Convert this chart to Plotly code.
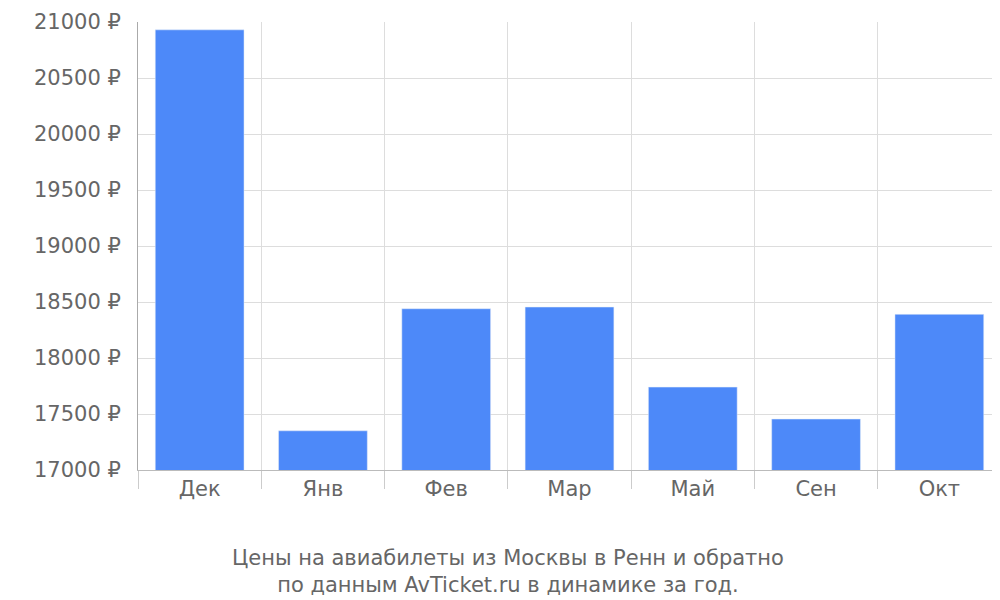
import plotly.graph_objects as go

months = ['Дек', 'Янв', 'Фев', 'Мар', 'Май', 'Сен', 'Окт']
prices = [20930, 17350, 18440, 18455, 17740, 17455, 18390]
y_ticks = [17000, 17500, 18000, 18500, 19000, 19500, 20000, 20500, 21000]

fig = go.Figure(go.Bar(x=months, y=prices, marker_color='#4d89f9', width=0.72))

fig.update_xaxes(tickson='boundaries', ticks='outside', ticklen=18, tickcolor='#ccc',
                 showgrid=True, gridcolor='#ddd', showline=True, linecolor='#bbb',
                 tickfont=dict(size=21, color='#666'), automargin=False)
fig.update_yaxes(range=[17000, 21000], tickvals=y_ticks,
                 ticktext=[f'{v} ₽' for v in y_ticks], ticks='outside', ticklen=12,
                 tickcolor='rgba(0,0,0,0)', gridcolor='#ddd', showline=True, linecolor='#aaa',
                 tickfont=dict(size=21, color='#666'), automargin=False)
fig.add_annotation(text='Цены на авиабилеты из Москвы в Ренн и обратно<br>по данным AvTicket.ru в динамике за год.',
                   xref='paper', yref='paper', x=(500 - 130) / 863, y=-0.165, yanchor='top',
                   showarrow=False, font=dict(size=21, color='#666'))
fig.update_layout(width=1000, height=600, margin=dict(l=130, r=7, t=14, b=138),
                  plot_bgcolor='white', paper_bgcolor='white', showlegend=False,
                  font=dict(family='DejaVu Sans'), bargap=0.28)

fig.write_html('out.html')
